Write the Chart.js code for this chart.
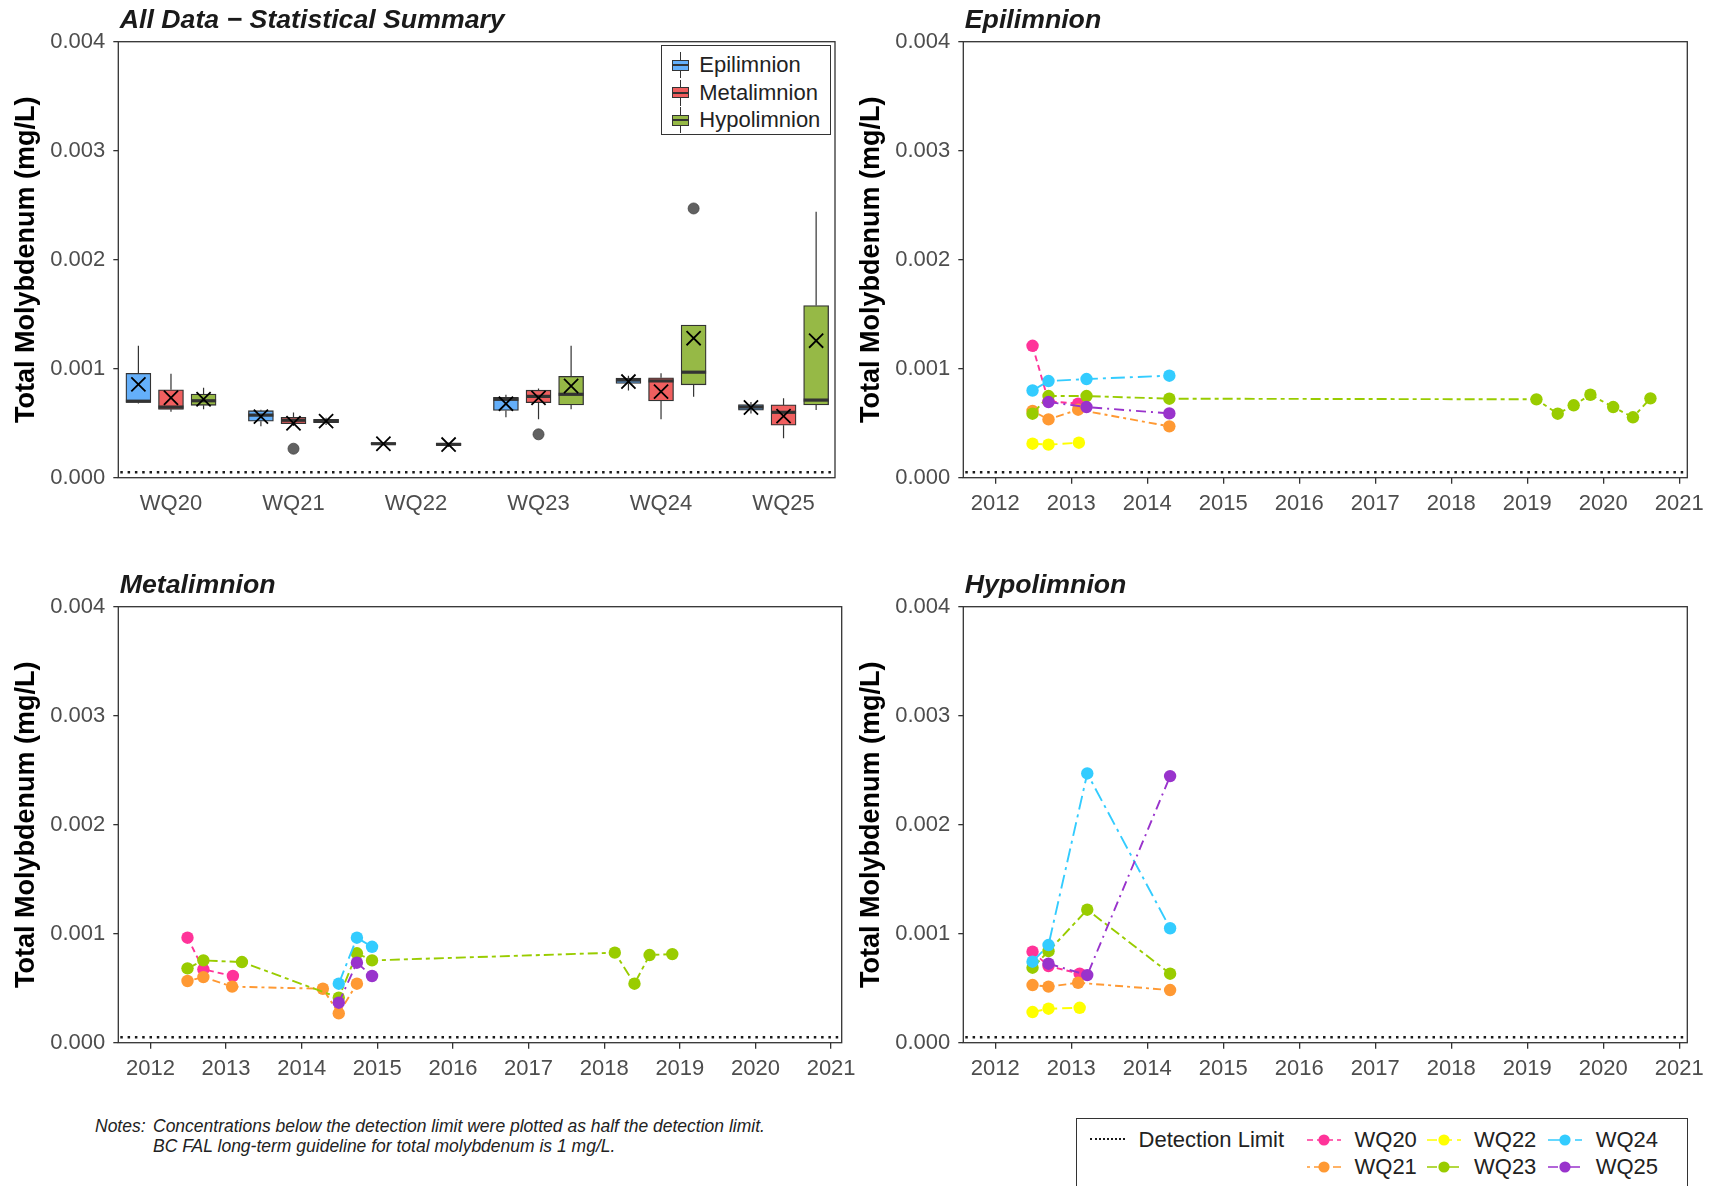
<!DOCTYPE html>
<html>
<head>
<meta charset="utf-8">
<title>Total Molybdenum</title>
<script src="https://cdn.jsdelivr.net/npm/chart.js@4.4.1/dist/chart.umd.min.js"></script>
<style>
  html, body { margin: 0; padding: 0; background: #fff; }
  body { width: 1713px; height: 1186px; position: relative; overflow: hidden;
         font-family: "Liberation Sans", Arial, sans-serif; }
  .panel { position: absolute; }
  .abs { position: absolute; white-space: nowrap; }
  .lgtext { font-size: 22px; line-height: 26px; color: #222; }
  .note { font-family: "Liberation Sans Narrow", "Liberation Sans", Arial, sans-serif;
          font-style: italic; font-size: 17.5px; line-height: 22px; color: #222; }
</style>
</head>
<body>
<div class="panel" style="left:0;top:0;width:865px;height:528px"><canvas id="allData"></canvas></div>
<div class="panel" style="left:845px;top:0;width:872px;height:528px"><canvas id="epi"></canvas></div>
<div class="panel" style="left:0;top:565px;width:872px;height:528px"><canvas id="meta"></canvas></div>
<div class="panel" style="left:845px;top:565px;width:872px;height:528px"><canvas id="hypo"></canvas></div>

<div class="abs note" style="left:95px;top:1115px">Notes:</div>
<div class="abs note" style="left:153px;top:1115px">Concentrations below the detection limit were plotted as half the detection limit.</div>
<div class="abs note" style="left:153px;top:1135px">BC FAL long-term guideline for total molybdenum is 1 mg/L.</div>

<script>
  "use strict";

  // Categories and ticks
  const sites = ["WQ20", "WQ21", "WQ22", "WQ23", "WQ24", "WQ25"];
  const layers = ["Epilimnion", "Metalimnion", "Hypolimnion"];
  const yTicks = [0, 0.001, 0.002, 0.003, 0.004];
  const yearTicks = [2012, 2013, 2014, 2015, 2016, 2017, 2018, 2019, 2020, 2021];
  const detectionLimit = 0.00005;

  // Box stats per site: [lower whisker, Q1, median, Q3, upper whisker]
  const epiBox = [
    [0.00068, 0.00069, 0.000702, 0.000957, 0.00121],
    [0.000471, 0.000519, 0.000574, 0.000615, 0.000624],
    [0.000303, 0.000308, 0.000312, 0.000317, 0.000321],
    [0.000554, 0.000617, 0.000719, 0.000738, 0.000761],
    [0.0008, 0.000865, 0.000896, 0.000913, 0.000936],
    [0.00059, 0.000619, 0.000648, 0.000671, 0.000694]
  ];
  const metaBox = [
    [0.000605, 0.000627, 0.000648, 0.000807, 0.000954],
    [0.000475, 0.000495, 0.000527, 0.000555, 0.000598],
    null,
    [0.000537, 0.000688, 0.000746, 0.000803, 0.000819],
    [0.000537, 0.000705, 0.000888, 0.000917, 0.000958],
    [0.000362, 0.000482, 0.0006, 0.000668, 0.00073]
  ];
  const hypoBox = [
    [0.000628, 0.000664, 0.000706, 0.000768, 0.000825],
    [0.000483, 0.000506, 0.000521, 0.000535, 0.00055],
    [0.000281, 0.000296, 0.000306, 0.000316, 0.00032],
    [0.000627, 0.000667, 0.000765, 0.00093, 0.00121],
    [0.000743, 0.000852, 0.000968, 0.0014, 0.0014],
    [0.00062, 0.000668, 0.000712, 0.00158, 0.00244]
  ];
  const epiMean = [0.000856, 0.00056, 0.000312, 0.000679, 0.000882, 0.000644];
  const metaMean = [0.000734, 0.0005, null, 0.000732, 0.00079, 0.000565];
  const hypoMean = [0.00072, 0.000519, 0.000304, 0.000841, 0.00128, 0.001257];
  const metaOutliers = [null, 0.000266, null, 0.000398, null, null];
  const hypoOutliers = [null, null, null, null, 0.00247, null];

  // Time series per site, [decimal year, mg/L], order WQ20..WQ25
  const epiSeries = [
    [[2012.49, 0.00121], [2012.70, 0.0007], [2013.09, 0.00068]],
    [[2012.49, 0.000612], [2012.70, 0.000535], [2013.09, 0.000624], [2014.29, 0.000471]],
    [[2012.49, 0.000312], [2012.70, 0.000303], [2013.10, 0.000321]],
    [[2012.49, 0.000587], [2012.70, 0.000749], [2013.20, 0.000749], [2014.29, 0.000725],
     [2019.12, 0.000719], [2019.40, 0.000587], [2019.61, 0.000664], [2019.83, 0.000761],
     [2020.13, 0.000648], [2020.39, 0.000554], [2020.62, 0.000728]],
    [[2012.49, 0.0008], [2012.70, 0.000887], [2013.20, 0.000905], [2014.29, 0.000936]],
    [[2012.70, 0.000694], [2013.20, 0.000648], [2014.29, 0.00059]]
  ];
  const metaSeries = [
    [[2012.49, 0.000963], [2012.70, 0.000673], [2013.09, 0.000612]],
    [[2012.49, 0.000566], [2012.70, 0.000602], [2013.08, 0.000514], [2014.28, 0.000495],
     [2014.49, 0.000269], [2014.73, 0.000541]],
    [],
    [[2012.49, 0.000682], [2012.70, 0.000755], [2013.21, 0.00074], [2014.49, 0.000413],
     [2014.73, 0.00082], [2014.93, 0.000755], [2018.14, 0.000826], [2018.40, 0.000541],
     [2018.60, 0.000804], [2018.90, 0.000813]],
    [[2014.49, 0.000541], [2014.73, 0.000963], [2014.93, 0.00088]],
    [[2014.49, 0.000367], [2014.73, 0.000734], [2014.93, 0.000612]]
  ];
  const hypoSeries = [
    [[2012.49, 0.000835], [2012.70, 0.000703], [2013.11, 0.000633]],
    [[2012.49, 0.000529], [2012.70, 0.000514], [2013.09, 0.00055], [2014.30, 0.000483]],
    [[2012.49, 0.000281], [2012.70, 0.000312], [2013.11, 0.00032]],
    [[2012.49, 0.000688], [2012.70, 0.00084], [2013.21, 0.00122], [2014.30, 0.000633]],
    [[2012.49, 0.000743], [2012.70, 0.000896], [2013.21, 0.00247], [2014.30, 0.00105]],
    [[2012.70, 0.000725], [2013.21, 0.00062], [2014.30, 0.002446]]
  ];

  // Styles
  const layerColors = ["#64affa", "#f05f5f", "#96b946"];
  const siteColors = ["#ff3399", "#ff9933", "#ffff00", "#99cc00", "#33ccff", "#9933cc"];
  const siteDashes = [[6, 4], [3, 4, 8, 4], [10, 5], [10, 4, 4, 4], [14, 5, 3, 5], [10, 5, 2, 5]];
  const dodge = [-0.266, 0, 0.266];
  const boxSets = [epiBox, metaBox, hypoBox];
  const meanSets = [epiMean, metaMean, hypoMean];
  const outlierSets = [null, metaOutliers, hypoOutliers];
  const FONT = '"Liberation Sans", Arial, sans-serif';

  Chart.defaults.font.family = FONT;
  Chart.defaults.color = "#4d4d4d";
  Chart.defaults.animation = false;
  Chart.defaults.maintainAspectRatio = false;
  Chart.defaults.plugins.legend.display = false;
  Chart.defaults.plugins.tooltip.enabled = false;

  // Frame, title and detection limit line
  var panelDecor = {
    id: "panelDecor",
    beforeDatasetsDraw: function (chart) {
      const ctx = chart.ctx, a = chart.chartArea;
      const yy = chart.scales.y.getPixelForValue(detectionLimit);
      ctx.save();
      ctx.strokeStyle = "#1a1a1a";
      ctx.lineWidth = 2.3;
      ctx.setLineDash([2.5, 4.8]);
      ctx.beginPath();
      ctx.moveTo(a.left + 2, yy);
      ctx.lineTo(a.right, yy);
      ctx.stroke();
      ctx.restore();
    },
    afterDraw: function (chart, args, opts) {
      const ctx = chart.ctx, a = chart.chartArea;
      ctx.save();
      ctx.strokeStyle = "#333";
      ctx.lineWidth = 1.3;
      ctx.strokeRect(a.left, a.top, a.right - a.left, a.bottom - a.top);
      ctx.fillStyle = "#1a1a1a";
      ctx.font = "italic bold 26.7px " + FONT;
      ctx.textBaseline = "alphabetic";
      ctx.fillText(opts.title, a.left + 1.5, a.top - 13.4);
      ctx.restore();
    }
  };

  // Whiskers and medians of the box plot
  var boxParts = {
    id: "boxParts",
    beforeDatasetsDraw: function (chart) {
      const ctx = chart.ctx, x = chart.scales.x, y = chart.scales.y;
      ctx.save();
      ctx.strokeStyle = "#333";
      ctx.lineWidth = 1.2;
      boxSets.forEach(function (set, l) {
        set.forEach(function (b, i) {
          if (!b) return;
          const px = x.getPixelForValue(i + 1 + dodge[l]);
          ctx.beginPath();
          ctx.moveTo(px, y.getPixelForValue(b[0]));
          ctx.lineTo(px, y.getPixelForValue(b[1]));
          ctx.moveTo(px, y.getPixelForValue(b[3]));
          ctx.lineTo(px, y.getPixelForValue(b[4]));
          ctx.stroke();
        });
      });
      ctx.restore();
    },
    afterDatasetDraw: function (chart, args) {
      if (args.index > 2) return;
      const ctx = chart.ctx, x = chart.scales.x, y = chart.scales.y;
      const l = args.index;
      ctx.save();
      ctx.strokeStyle = "#333";
      ctx.lineWidth = 3.2;
      boxSets[l].forEach(function (b, i) {
        if (!b) return;
        const px = x.getPixelForValue(i + 1 + dodge[l]);
        const ym = y.getPixelForValue(b[2]);
        ctx.beginPath();
        ctx.moveTo(px - 12.5, ym);
        ctx.lineTo(px + 12.5, ym);
        ctx.stroke();
      });
      ctx.restore();
    }
  };

  function yAxis() {
    return {
      min: 0,
      max: 0.004,
      afterBuildTicks: function (axis) { axis.ticks = yTicks.map(function (v) { return { value: v }; }); },
      afterFit: function (axis) { axis.width = 118.3; },
      ticks: { callback: function (v) { return v.toFixed(3); }, font: { size: 22 }, color: "#4d4d4d", padding: 8 },
      grid: { drawOnChartArea: false, tickLength: 5, color: "#333", lineWidth: 1.3 },
      border: { display: false },
      title: { display: true, text: "Total Molybdenum (mg/L)", color: "#000",
               font: { size: 27, weight: "bold" }, padding: { top: 10.5, bottom: 0 } }
    };
  }

  function yearAxis(min, max) {
    return {
      type: "linear",
      min: min,
      max: max,
      afterBuildTicks: function (axis) { axis.ticks = yearTicks.map(function (v) { return { value: v }; }); },
      afterFit: function (axis) { axis.height = 50; },
      ticks: { callback: function (v) { return String(v); }, font: { size: 22 }, color: "#4d4d4d",
               padding: 7, autoSkip: false, maxRotation: 0 },
      grid: { drawOnChartArea: false, tickLength: 6, color: "#333", lineWidth: 1.3 },
      border: { display: false }
    };
  }

  // Statistical summary (box plot)
  const boxDatasets = layers.map(function (name, l) {
    const data = [];
    boxSets[l].forEach(function (b, i) {
      if (b) data.push({ x: i + 1 + dodge[l], y: [b[1], b[3]] });
    });
    return {
      type: "bar", label: name, data: data,
      backgroundColor: layerColors[l], borderColor: "#333", borderWidth: 1.3,
      borderSkipped: false, barThickness: 25, grouped: false, order: 2
    };
  });
  const meanPoints = [];
  const outlierPoints = [];
  layers.forEach(function (name, l) {
    meanSets[l].forEach(function (m, i) {
      if (m !== null) meanPoints.push({ x: i + 1 + dodge[l], y: m });
    });
    if (outlierSets[l]) {
      outlierSets[l].forEach(function (o, i) {
        if (o !== null) outlierPoints.push({ x: i + 1 + dodge[l], y: o });
      });
    }
  });

  new Chart(document.getElementById("allData"), {
    type: "bar",
    data: {
      datasets: boxDatasets.concat([
        { type: "scatter", label: "Outliers", data: outlierPoints, pointStyle: "circle", pointRadius: 5.5,
          backgroundColor: "rgba(80,80,80,0.9)", borderColor: "#444", borderWidth: 0.8, order: 1 },
        { type: "scatter", label: "Mean", data: meanPoints, pointStyle: "crossRot", pointRadius: 10,
          borderColor: "#000", borderWidth: 1.8, order: 0 }
      ])
    },
    options: {
      layout: { padding: { top: 41.7, right: 30, bottom: 0.3, left: 0 } },
      scales: {
        x: {
          type: "linear",
          offset: false,
          min: 0.57,
          max: 6.42,
          afterBuildTicks: function (axis) { axis.ticks = sites.map(function (s, i) { return { value: i + 1 }; }); },
          afterFit: function (axis) { axis.height = 50; },
          ticks: { callback: function (v) { return sites[v - 1]; }, font: { size: 22 }, color: "#4d4d4d",
                   padding: 13, autoSkip: false, maxRotation: 0 },
          grid: { drawOnChartArea: false, drawTicks: false, offset: false },
          border: { display: false }
        },
        y: yAxis()
      },
      plugins: { panelDecor: { title: "All Data \u2212 Statistical Summary" } }
    },
    plugins: [panelDecor, boxParts]
  });

  // Time series panels
  function seriesChart(id, series, title, xmin, xmax) {
    const datasets = sites.map(function (s, i) {
      return {
        label: s,
        data: series[i].map(function (p) { return { x: p[0], y: p[1] }; }),
        borderColor: siteColors[i],
        backgroundColor: siteColors[i],
        borderWidth: 1.9,
        borderDash: siteDashes[i],
        pointRadius: 6.2,
        pointBorderWidth: 0,
        pointBackgroundColor: siteColors[i],
        tension: 0,
        fill: false,
        order: sites.length - i
      };
    });
    new Chart(document.getElementById(id), {
      type: "line",
      data: { datasets: datasets },
      options: {
        layout: { padding: { top: 41.7, right: 872 - xmax.right, bottom: 0.3, left: 0 } },
        scales: { x: yearAxis(xmin, xmax.value), y: yAxis() },
        plugins: { panelDecor: { title: title } }
      },
      plugins: [panelDecor]
    });
  }

  seriesChart("epi", epiSeries, "Epilimnion", 2011.579, { value: 2021.105, right: 842.3 });
  seriesChart("meta", metaSeries, "Metalimnion", 2011.575, { value: 2021.14, right: 841.7 });
  seriesChart("hypo", hypoSeries, "Hypolimnion", 2011.579, { value: 2021.105, right: 842.3 });

  // Box plot legend
  function addEl(cls, style, html) {
    const d = document.createElement("div");
    d.className = cls;
    d.setAttribute("style", style);
    if (html) d.innerHTML = html;
    document.body.appendChild(d);
    return d;
  }
  addEl("abs", "left:661px;top:45px;width:168px;height:88px;border:1.3px solid #333;background:#fff");
  layers.forEach(function (name, l) {
    const c = 65 + l * 27.5;
    addEl("abs", "left:680px;top:" + (c - 13) + "px;width:1.2px;height:26px;background:#333");
    addEl("abs", "left:672px;top:" + (c - 5.5) + "px;width:17px;height:11px;box-sizing:border-box;border:1px solid #333;background:" + layerColors[l]);
    addEl("abs", "left:672px;top:" + (c - 1) + "px;width:17px;height:2px;background:#333");
    addEl("abs lgtext", "left:699.3px;top:" + (c - 13) + "px", name);
  });

  // Bottom legend
  addEl("abs", "left:1076px;top:1118px;width:610px;height:120px;border:1.3px solid #333;background:#fff");
  addEl("abs", "left:1090px;top:1138.4px;width:35px;height:0;border-top:2.2px dotted #1a1a1a");
  addEl("abs lgtext", "left:1138.6px;top:1126.5px", "Detection Limit");
  const keyX = [1306.7, 1306.7, 1427, 1427, 1548, 1548];
  const textX = [1354.5, 1354.5, 1474, 1474, 1595.7, 1595.7];
  sites.forEach(function (s, i) {
    const row = i % 2;
    const c = row === 0 ? 1139.5 : 1167;
    const svg = '<svg width="34" height="14" viewBox="0 0 34 14">' +
      '<line x1="0" y1="7" x2="34" y2="7" stroke="' + siteColors[i] + '" stroke-width="1.6" stroke-dasharray="' + siteDashes[i].join(" ") + '"/>' +
      '<circle cx="17" cy="7" r="5.6" fill="' + siteColors[i] + '"/></svg>';
    addEl("abs", "left:" + keyX[i] + "px;top:" + (c - 7) + "px;width:34px;height:14px;line-height:0", svg);
    addEl("abs lgtext", "left:" + textX[i] + "px;top:" + (c - 13) + "px", s);
  });
</script>
</body>
</html>
